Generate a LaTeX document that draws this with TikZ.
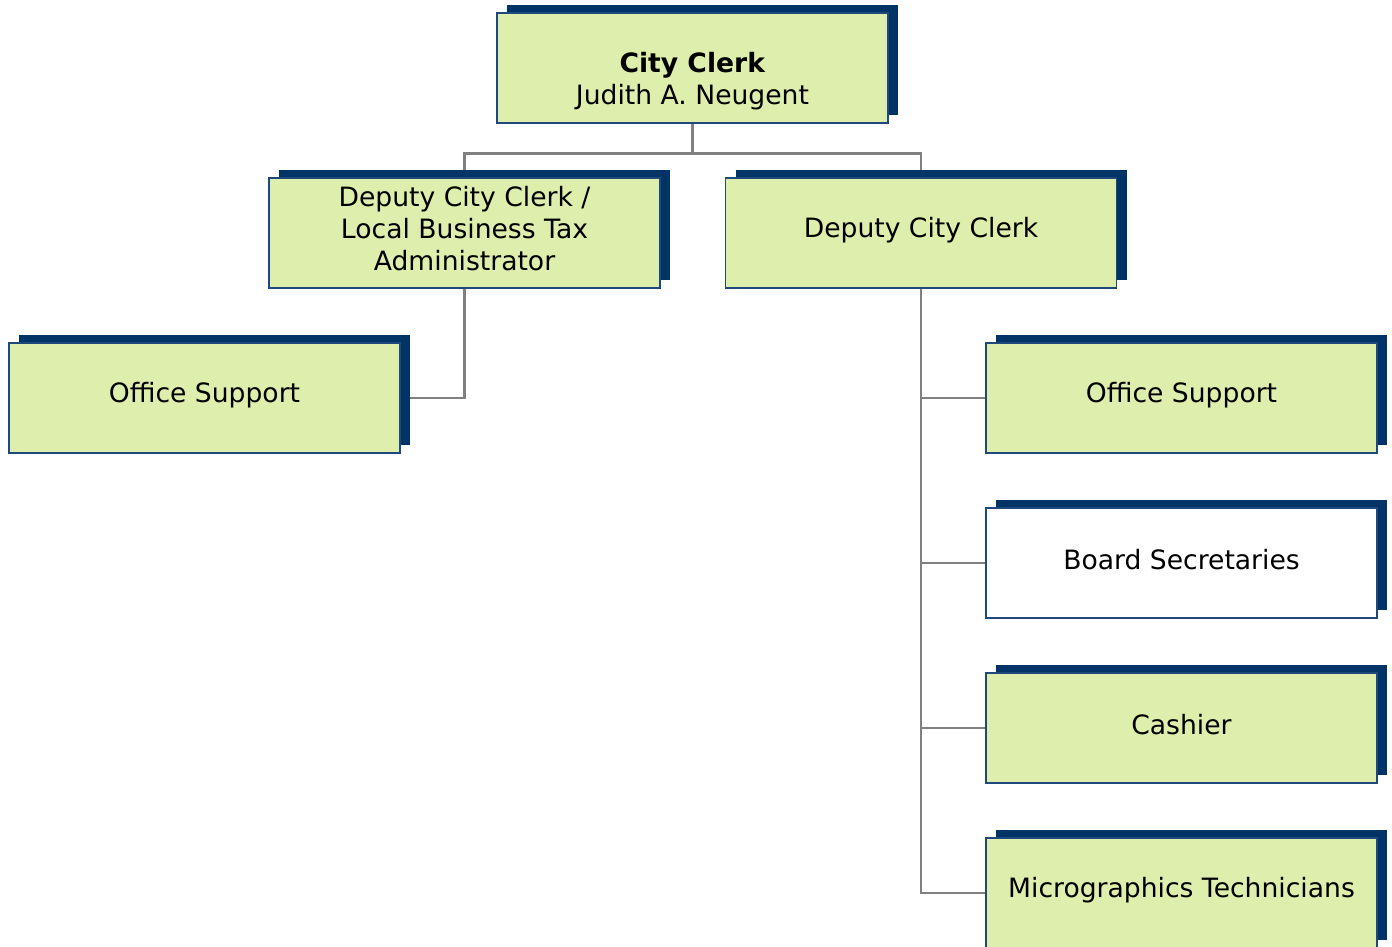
\documentclass[tikz,border=0pt]{standalone}
\usepackage{fontspec}
\setmainfont{DejaVu Sans}
\usetikzlibrary{shadows,backgrounds}
\definecolor{clerknavy}{RGB}{0,51,102}
\definecolor{clerkedge}{RGB}{31,73,125}
\definecolor{clerkgreen}{RGB}{222,238,172}
\definecolor{clerkline}{RGB}{128,128,128}
\tikzset{
	unit/.style={draw=clerkedge, line width=0.6pt, fill=clerkgreen, minimum width=195.5pt, minimum height=55pt, inner sep=0pt, drop shadow={shadow xshift=5pt, shadow yshift=4pt, fill=clerknavy, opacity=1}},
	blank/.style={unit, fill=white},
	says/.style={font=\fontsize{13.3}{16}\selectfont, align=center, inner sep=0pt, yshift=#1},
	says/.default=1.5pt,
	link/.style={draw=clerkline, line width=1.3pt}
}
\begin{document}
\begin{tikzpicture}[x=0.5pt, y=-0.5pt]
	\useasboundingbox (0,0) rectangle (1392,947);
	\node[unit, label={[says=-6.5pt]center:{\textbf{City Clerk}\\Judith A. Neugent}}] (clerk) at (692.5,68) {};
	\node[unit, label={[says=2pt]center:{Deputy City Clerk /\\Local Business Tax\\Administrator}}] (deplbt) at (464.5,233) {};
	\node[unit, label={[says]center:Deputy City Clerk}] (dep) at (921,233) {};
	\node[unit, label={[says]center:Office Support}] (supleft) at (204.5,398) {};
	\node[unit, label={[says]center:Office Support}] (supright) at (1181.5,398) {};
	\node[blank, label={[says]center:Board Secretaries}] (board) at (1181.5,563) {};
	\node[unit, label={[says]center:Cashier}] (cash) at (1181.5,728) {};
	\node[unit, label={[says]center:Micrographics Technicians}] (micro) at (1181.5,893) {};
	
	\begin{pgfonlayer}{background}
	\draw[link] (clerk.south) -- ++(0,30) coordinate (fork);
	\draw[link] (deplbt.north) |- (fork) -| (dep.north);
	\draw[link] (deplbt.south) |- (supleft.east);
	\draw[link] (dep.south) |- (micro.west);
	\foreach \n in {supright,board,cash}
		\draw[link] (\n.west) -- (\n.west -| dep.south);
	\end{pgfonlayer}
\end{tikzpicture}
\end{document}
